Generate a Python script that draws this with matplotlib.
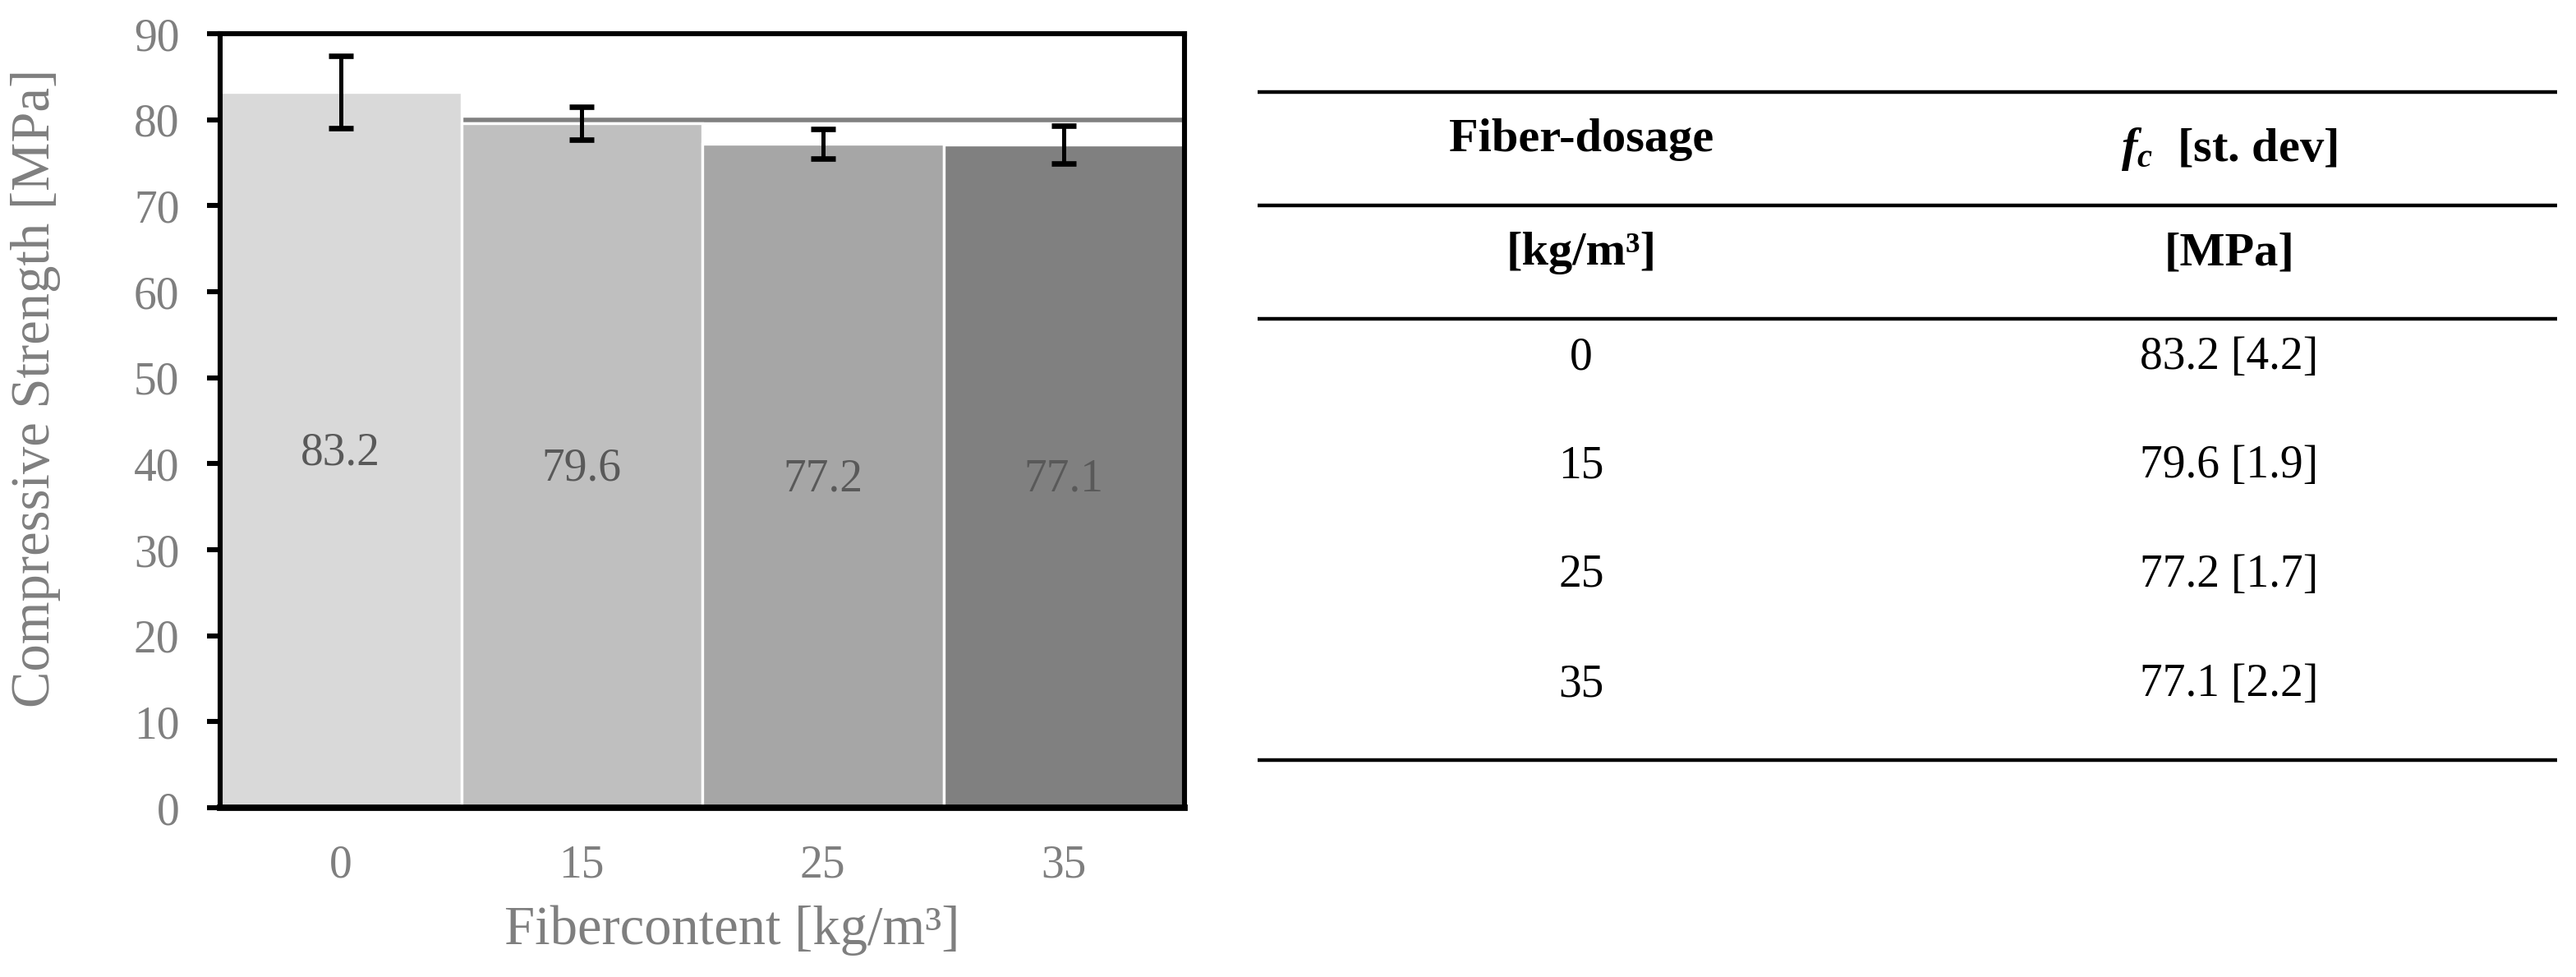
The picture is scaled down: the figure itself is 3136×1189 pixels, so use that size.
import matplotlib
matplotlib.use('Agg')
import matplotlib.pyplot as plt
import numpy as np

plt.rcParams['font.family'] = ['Liberation Serif', 'DejaVu Serif']
plt.rcParams['mathtext.fontset'] = 'custom'
plt.rcParams['mathtext.it'] = 'Liberation Serif:italic:bold'
plt.rcParams['mathtext.rm'] = 'Liberation Serif:bold'

# data
fiber_dosage = ['0', '15', '25', '35']
strength = [83.2, 79.6, 77.2, 77.1]
std_dev = [4.2, 1.9, 1.7, 2.2]
bar_colors = ['#d9d9d9', '#bfbfbf', '#a6a6a6', '#808080']

gray_text = '#7f7f7f'
label_text = '#595959'

W, H = 3136, 1189
fig = plt.figure(figsize=(W / 200, H / 200), dpi=200)

# --- bar chart ---
ax = fig.add_axes([268 / W, 1 - 983 / H, (1442 - 268) / W, (983 - 41) / H])
x = np.arange(len(fiber_dosage))
ax.bar(x, strength, width=1.0, color=bar_colors, edgecolor='white', linewidth=1.2, zorder=2)
ax.errorbar(x, strength, yerr=std_dev, fmt='none', ecolor='black',
            elinewidth=1.8, capsize=5.4, capthick=2.4, zorder=4)

for xi, v in zip(x, strength):
    ax.text(xi, v / 2 - 0.4, f'{v:.1f}', ha='center', va='center',
            fontsize=20, color=label_text, zorder=5)

ax.set_xlim(-0.5, 3.5)
ax.set_ylim(0, 90)
ax.set_yticks(np.arange(0, 91, 10))
ax.set_xticks(x)
ax.set_xticklabels(fiber_dosage)

ax.yaxis.grid(True, color='#808080', linewidth=2.0, zorder=1)
ax.set_axisbelow(True)

ax.tick_params(axis='y', direction='out', length=5.8, width=2.2, color='black',
               labelsize=20, labelcolor=gray_text, pad=12)
ax.tick_params(axis='x', length=0, labelsize=20, labelcolor=gray_text, pad=16)

for side in ['top', 'left', 'right']:
    ax.spines[side].set_linewidth(2.2)
ax.spines['bottom'].set_linewidth(2.8)

ax.set_ylabel('Compressive Strength [MPa]', fontsize=24, color=gray_text)
ax.yaxis.set_label_coords(-0.191, 0.542)
ax.yaxis.label.set_va('center')
ax.set_xlabel('Fibercontent [kg/m³]', fontsize=24, color=gray_text)
ax.xaxis.set_label_coords(0.531, -0.158)
ax.xaxis.label.set_va('center')

# --- table on the right (pixel coordinates) ---
tab = fig.add_axes([0, 0, 1, 1], facecolor='none')
tab.set_xlim(0, W)
tab.set_ylim(H, 0)
tab.axis('off')

x0, x1 = 1531, 3113
for yl in [112, 250, 388, 925]:
    tab.plot([x0, x1], [yl, yl], color='black', linewidth=1.6, solid_capstyle='butt')

col1, col2 = 1925, 2714
tab.text(col1, 170, 'Fiber-dosage', ha='center', va='center', fontsize=21, fontweight='bold')
tab.text(col2, 182, r'$f_c$  [st. dev]', ha='center', va='center', fontsize=21, fontweight='bold')
tab.text(col1, 308, '[kg/m³]', ha='center', va='center', fontsize=21, fontweight='bold')
tab.text(col2, 308, '[MPa]', ha='center', va='center', fontsize=21, fontweight='bold')

row_y = [435, 567, 700, 833]
for yr, d, v, s in zip(row_y, fiber_dosage, strength, std_dev):
    tab.text(col1, yr, d, ha='center', va='center', fontsize=20)
    tab.text(col2, yr, f'{v:.1f} [{s:.1f}]', ha='center', va='center', fontsize=20)

fig.savefig('out.png', dpi=200)
